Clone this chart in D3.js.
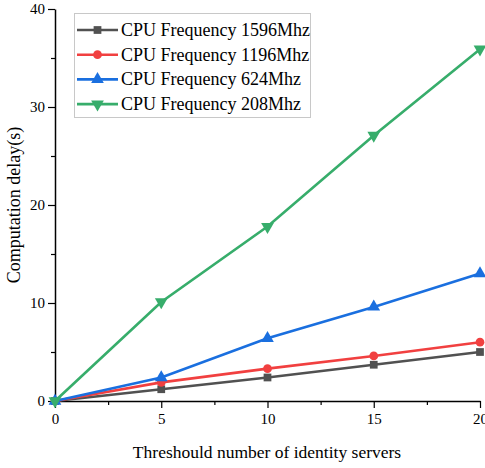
<!DOCTYPE html>
<html>
<head>
<meta charset="utf-8">
<script src="https://cdn.jsdelivr.net/npm/d3@7"></script>
<style>
body { margin: 0; background: #fff; }
text { font-family: "Liberation Serif", "Times New Roman", serif; }
</style>
</head>
<body>
<svg id="chart" width="485" height="468"></svg>
<script>
// data
let servers = [0, 5, 10, 15, 20];
let f1596 = [0, 1.2, 2.4, 3.7, 5.0];
let f1196 = [0, 1.9, 3.3, 4.6, 6.0];
let f624 = [0, 2.4, 6.4, 9.6, 13.0];
let f208 = [0, 10.1, 17.8, 27.1, 35.9];
let seriesNames = ['CPU Frequency 1596Mhz', 'CPU Frequency 1196Mhz', 'CPU Frequency 624Mhz', 'CPU Frequency 208Mhz'];
let xTicks = [0, 5, 10, 15, 20];
let yTicks = [0, 10, 20, 30, 40];

let colors = ['#515151', '#F14040', '#1A6FDF', '#37AD6B'];
let symbols = [d3.symbolSquare, d3.symbolCircle, d3.symbolTriangle, d3.symbolTriangle];
let symSize = [60, 60, 70, 70];
let symRot = [0, 0, 0, 180];

let svg = d3.select('#chart');
let x = d3.scaleLinear().domain([0, 20]).range([55, 480]);
let y = d3.scaleLinear().domain([0, 40]).range([401, 9]);

let all = [f1596, f1196, f624, f208];

// minor ticks
svg.append('g').attr('transform', 'translate(0,401)')
	.call(d3.axisBottom(x).tickValues([2.5, 7.5, 12.5, 17.5]).tickSize(4).tickFormat(''))
	.call(g => g.select('.domain').remove())
	.selectAll('line').attr('stroke-width', 1.2);
svg.append('g').attr('transform', 'translate(55,0)')
	.call(d3.axisLeft(y).tickValues([5, 15, 25, 35]).tickSize(4).tickFormat(''))
	.call(g => g.select('.domain').remove())
	.selectAll('line').attr('stroke-width', 1.2);

// major axes
let xa = svg.append('g').attr('transform', 'translate(0,401)')
	.call(d3.axisBottom(x).tickValues(xTicks).tickSize(7).tickSizeOuter(0).tickPadding(5));
let ya = svg.append('g').attr('transform', 'translate(55,0)')
	.call(d3.axisLeft(y).tickValues(yTicks).tickSize(7).tickSizeOuter(0).tickPadding(3));
[xa, ya].forEach(a => {
	a.select('.domain').attr('stroke-width', 1.5);
	a.selectAll('line').attr('stroke-width', 1.2);
	a.selectAll('text').style('font-family', '"Liberation Serif", serif').style('font-size', '15px').attr('fill', '#000');
});

// lines and markers
let lineFn = d3.line().x((d, i) => x(servers[i])).y(d => y(d));
all.forEach((s, k) => {
	svg.append('path').attr('d', lineFn(s))
		.attr('fill', 'none').attr('stroke', colors[k]).attr('stroke-width', 2.6);
	svg.append('g').selectAll('path').data(s).join('path')
		.attr('d', d3.symbol().type(symbols[k]).size(symSize[k]))
		.attr('transform', (d, i) => 'translate(' + x(servers[i]) + ',' + y(d) + ') rotate(' + symRot[k] + ')')
		.attr('fill', colors[k]);
});

// legend
let leg = svg.append('g');
leg.append('rect').attr('x', 74.5).attr('y', 13.5).attr('width', 236).attr('height', 104)
	.attr('fill', '#fff').attr('stroke', '#c8c8c8').attr('stroke-width', 1);
seriesNames.forEach((name, k) => {
	let yy = 30 + k * 24.7;
	leg.append('line').attr('x1', 77).attr('x2', 118).attr('y1', yy).attr('y2', yy)
		.attr('stroke', colors[k]).attr('stroke-width', 2.6);
	leg.append('path').attr('d', d3.symbol().type(symbols[k]).size(symSize[k])())
		.attr('transform', 'translate(97.5,' + yy + ') rotate(' + symRot[k] + ')')
		.attr('fill', colors[k]);
	leg.append('text').attr('x', 121).attr('y', yy + 6).style('font-size', '18px').text(name);
});

// axis titles
svg.append('text').attr('x', 267).attr('y', 458).attr('text-anchor', 'middle')
	.style('font-size', '17.5px').text('Threshould number of identity servers');
svg.append('text').attr('transform', 'translate(20,205) rotate(-90)').attr('text-anchor', 'middle')
	.style('font-size', '18px').text('Computation delay(s)');
</script>
</body>
</html>
